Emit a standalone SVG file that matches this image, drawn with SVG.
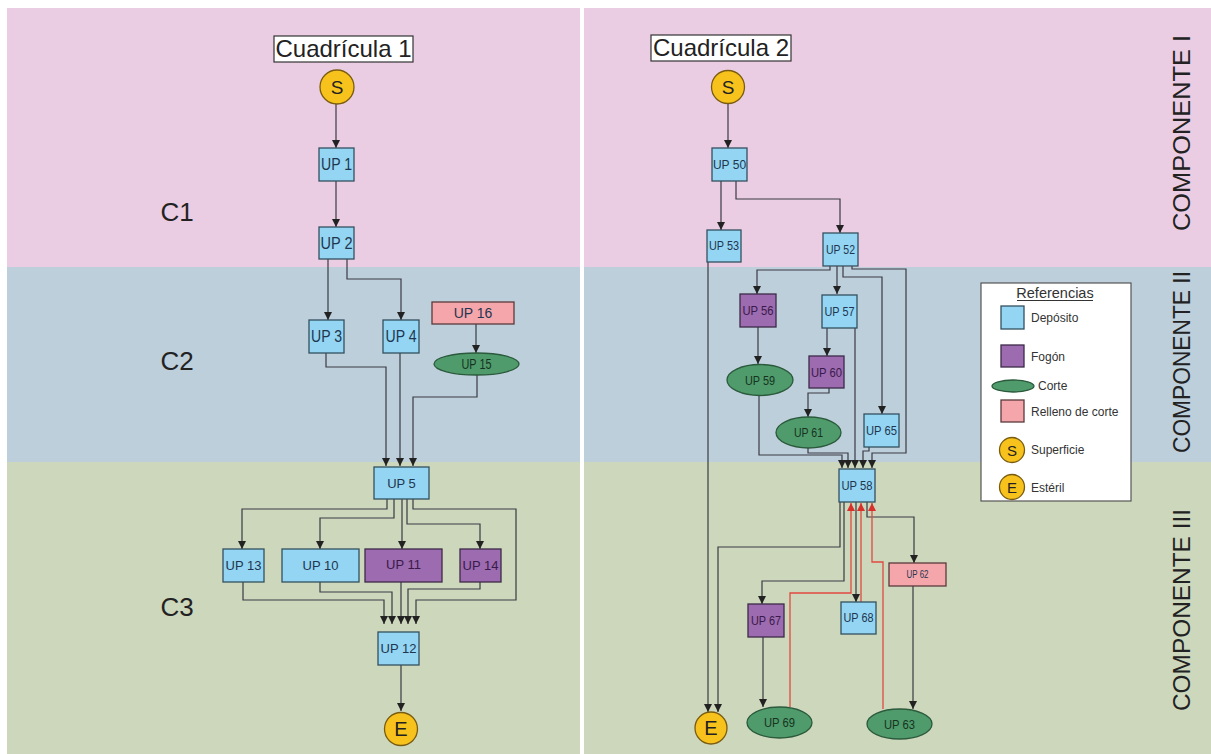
<svg xmlns="http://www.w3.org/2000/svg" width="1211" height="754" viewBox="0 0 1211 754">
<style>
  text { font-family: "Liberation Sans", Arial, sans-serif; }
  .dep { fill: #93d5f2; stroke: #34505f; stroke-width: 1.3; }
  .fog { fill: #9c6bb0; stroke: #3d2a48; stroke-width: 1.3; }
  .rel { fill: #f5a6aa; stroke: #5a3a3c; stroke-width: 1.3; }
  .cor { fill: #4f9b6b; stroke: #2b5a3c; stroke-width: 1.3; }
  .sup { fill: #f8c21c; stroke: #7a5c10; stroke-width: 1.3; }
  .lbl { fill: #1f3550; text-anchor: middle; }
  .lblp { fill: #3a1a4a; text-anchor: middle; }
  .lblg { fill: #16331f; text-anchor: middle; }
  .big { fill: #222; text-anchor: middle; }
  .con { fill: none; stroke: #3a3a44; stroke-width: 1.2; }
  .red { fill: none; stroke: #e04a40; stroke-width: 1.3; }
  .leg { fill: #333; font-size: 12px; }
</style>
<defs>
  <marker id="ah" markerUnits="userSpaceOnUse" markerWidth="9" markerHeight="9" refX="8" refY="4" orient="auto">
    <path d="M0,0 L8,4 L0,8 z" fill="#222"/>
  </marker>
  <marker id="ahr" markerUnits="userSpaceOnUse" markerWidth="9" markerHeight="9" refX="8" refY="4" orient="auto">
    <path d="M0,0 L8,4 L0,8 z" fill="#d8302a"/>
  </marker>
</defs>

<g id="bands">
  <rect x="0" y="0" width="1211" height="754" fill="#ffffff"/>
  <rect x="7" y="8" width="1204" height="259" fill="#ebcde3"/>
  <rect x="7" y="267" width="1204" height="195" fill="#bdcfdb"/>
  <rect x="7" y="462" width="1204" height="292" fill="#cdd7bc"/>
  <rect x="580" y="8" width="4" height="746" fill="#ffffff"/>
  <text class="big" x="177" y="221" font-size="26">C1</text>
  <text class="big" x="177" y="370" font-size="26">C2</text>
  <text class="big" x="177" y="616" font-size="26">C3</text>
  <text class="big" transform="translate(1190,133) rotate(-90)" font-size="23" textLength="196" lengthAdjust="spacingAndGlyphs">COMPONENTE I</text>
  <text class="big" transform="translate(1190,362) rotate(-90)" font-size="23" textLength="182" lengthAdjust="spacingAndGlyphs">COMPONENTE II</text>
  <text class="big" transform="translate(1190,610) rotate(-90)" font-size="23" textLength="202" lengthAdjust="spacingAndGlyphs">COMPONENTE III</text>
</g>

<g id="titles">
  <rect x="274" y="36" width="139" height="26" fill="#ffffff" stroke="#333" stroke-width="1.2"/>
  <text class="big" x="343.5" y="57" font-size="24">Cuadrícula 1</text>
  <rect x="651" y="35" width="140" height="26" fill="#ffffff" stroke="#333" stroke-width="1.2"/>
  <text class="big" x="721" y="56" font-size="24">Cuadrícula 2</text>
</g>

<g id="connectors">
  <!-- Cuadrícula 1 -->
  <path class="con" marker-end="url(#ah)" d="M336,104 V148"/>
  <path class="con" marker-end="url(#ah)" d="M336,181 V227"/>
  <path class="con" marker-end="url(#ah)" d="M328,259 V320"/>
  <path class="con" marker-end="url(#ah)" d="M347,259 V279 H401 V320"/>
  <path class="con" marker-end="url(#ah)" d="M476,324 V353"/>
  <path class="con" marker-end="url(#ah)" d="M326,353 V367 H386 V466"/>
  <path class="con" marker-end="url(#ah)" d="M400,353 V466"/>
  <path class="con" marker-end="url(#ah)" d="M477,375 V397 H413 V466"/>
  <path class="con" marker-end="url(#ah)" d="M387,499 V509 H242 V549"/>
  <path class="con" marker-end="url(#ah)" d="M394,499 V518 H320 V549"/>
  <path class="con" marker-end="url(#ah)" d="M402,499 V549"/>
  <path class="con" marker-end="url(#ah)" d="M407,499 V524 H480 V549"/>
  <path class="con" marker-end="url(#ah)" d="M413,499 V509 H516 V600 H416 V624"/>
  <path class="con" marker-end="url(#ah)" d="M243,582 V600 H384 V624"/>
  <path class="con" marker-end="url(#ah)" d="M320,582 V592 H392 V624"/>
  <path class="con" marker-end="url(#ah)" d="M401,582 V624"/>
  <path class="con" marker-end="url(#ah)" d="M480,582 V589 H408 V624"/>
  <path class="con" marker-end="url(#ah)" d="M401,665 V711"/>
  <!-- Cuadrícula 2 -->
  <path class="con" marker-end="url(#ah)" d="M728,104 V148"/>
  <path class="con" marker-end="url(#ah)" d="M721,181 V230"/>
  <path class="con" marker-end="url(#ah)" d="M736,181 V199 H840 V233"/>
  <path class="con" marker-end="url(#ah)" d="M708,262 V712"/>
  <path class="con" marker-end="url(#ah)" d="M830,266 V270 H757 V294"/>
  <path class="con" marker-end="url(#ah)" d="M837,266 V294"/>
  <path class="con" marker-end="url(#ah)" d="M843,266 V277 H882 V414"/>
  <path class="con" marker-end="url(#ah)" d="M852,266 V269 H906 V453 H872 V468"/>
  <path class="con" marker-end="url(#ah)" d="M758,327 V364"/>
  <path class="con" marker-end="url(#ah)" d="M827,328 V356"/>
  <path class="con" marker-end="url(#ah)" d="M855,328 V468"/>
  <path class="con" marker-end="url(#ah)" d="M829,388 V393 H808 V417"/>
  <path class="con" marker-end="url(#ah)" d="M759,395 V455 H842 V468"/>
  <path class="con" marker-end="url(#ah)" d="M808,448 V453 H848 V468"/>
  <path class="con" marker-end="url(#ah)" d="M869,447 V451 H863 V468"/>
  <path class="con" marker-end="url(#ah)" d="M840,502 V547 H718 V712"/>
  <path class="con" marker-end="url(#ah)" d="M844,502 V581 H762 V604"/>
  <path class="con" marker-end="url(#ah)" d="M856,502 V602"/>
  <path class="con" marker-end="url(#ah)" d="M867,502 V517 H914 V563"/>
  <path class="con" marker-end="url(#ah)" d="M913,586 V709"/>
  <path class="con" marker-end="url(#ah)" d="M763,637 V707"/>
  <path class="red" marker-end="url(#ahr)" d="M790,707 V593 H851 V503"/>
  <path class="red" marker-end="url(#ahr)" d="M861,602 V503"/>
  <path class="red" marker-end="url(#ahr)" d="M883,709 V562 H872 V503"/>
</g>

<!-- Cuadrícula 1 nodes -->
<g id="s1"><circle class="sup" cx="337" cy="87" r="17"/><text class="big" x="337" y="94" font-size="19">S</text></g>
<g id="up1"><rect class="dep" x="319" y="148" width="35" height="33"/><text class="lbl" x="336.5" y="170" font-size="16" textLength="31" lengthAdjust="spacingAndGlyphs">UP 1</text></g>
<g id="up2"><rect class="dep" x="319" y="227" width="35" height="32"/><text class="lbl" x="336.5" y="249" font-size="16" textLength="32" lengthAdjust="spacingAndGlyphs">UP 2</text></g>
<g id="up3"><rect class="dep" x="309" y="320" width="35" height="33"/><text class="lbl" x="326.5" y="342" font-size="16" textLength="31" lengthAdjust="spacingAndGlyphs">UP 3</text></g>
<g id="up4"><rect class="dep" x="383" y="320" width="36" height="33"/><text class="lbl" x="401" y="342" font-size="16" textLength="31" lengthAdjust="spacingAndGlyphs">UP 4</text></g>
<g id="up16"><rect class="rel" x="432" y="302" width="82" height="22"/><text class="lbl" x="473" y="318" font-size="14" fill="#3a2428">UP 16</text></g>
<g id="up15"><ellipse class="cor" cx="476.5" cy="364" rx="42.5" ry="11"/><text class="lblg" x="476.5" y="369" font-size="14" textLength="30" lengthAdjust="spacingAndGlyphs">UP 15</text></g>
<g id="up5"><rect class="dep" x="374" y="467" width="55" height="32"/><text class="lbl" x="401.5" y="488" font-size="13">UP 5</text></g>
<g id="up13"><rect class="dep" x="223" y="549" width="41" height="33"/><text class="lbl" x="243.5" y="570" font-size="13">UP 13</text></g>
<g id="up10"><rect class="dep" x="282" y="549" width="77" height="33"/><text class="lbl" x="320.5" y="570" font-size="13">UP 10</text></g>
<g id="up11"><rect class="fog" x="365" y="549" width="77" height="33"/><text class="lblp" x="403.5" y="569" font-size="13">UP 11</text></g>
<g id="up14"><rect class="fog" x="460" y="549" width="41" height="33"/><text class="lblp" x="480.5" y="570" font-size="13">UP 14</text></g>
<g id="up12"><rect class="dep" x="378" y="632" width="41" height="33"/><text class="lbl" x="398.5" y="653" font-size="13">UP 12</text></g>
<g id="e1"><circle class="sup" cx="401" cy="729" r="16.5"/><text class="big" x="401" y="736" font-size="20">E</text></g>

<!-- Cuadrícula 2 nodes -->
<g id="s2"><circle class="sup" cx="728" cy="87" r="16.5"/><text class="big" x="728" y="94" font-size="19">S</text></g>
<g id="up50"><rect class="dep" x="712" y="148" width="35" height="33"/><text class="lbl" x="729.5" y="169" font-size="12">UP 50</text></g>
<g id="up53"><rect class="dep" x="707" y="230" width="34" height="32"/><text class="lbl" x="724" y="250" font-size="12" textLength="30" lengthAdjust="spacingAndGlyphs">UP 53</text></g>
<g id="up52"><rect class="dep" x="823" y="233" width="35" height="33"/><text class="lbl" x="840.5" y="254" font-size="13" textLength="29" lengthAdjust="spacingAndGlyphs">UP 52</text></g>
<g id="up56"><rect class="fog" x="740" y="294" width="36" height="33"/><text class="lblp" x="758" y="315" font-size="13" textLength="31" lengthAdjust="spacingAndGlyphs">UP 56</text></g>
<g id="up57"><rect class="dep" x="822" y="295" width="35" height="33"/><text class="lbl" x="839.5" y="316" font-size="13" textLength="30" lengthAdjust="spacingAndGlyphs">UP 57</text></g>
<g id="up59"><ellipse class="cor" cx="760" cy="380" rx="33" ry="15.5"/><text class="lblg" x="760" y="385" font-size="13" textLength="30" lengthAdjust="spacingAndGlyphs">UP 59</text></g>
<g id="up60"><rect class="fog" x="809" y="356" width="35" height="32"/><text class="lblp" x="826.5" y="377" font-size="13" textLength="31" lengthAdjust="spacingAndGlyphs">UP 60</text></g>
<g id="up61"><ellipse class="cor" cx="808.5" cy="432.5" rx="32.5" ry="15.5"/><text class="lblg" x="808.5" y="437" font-size="13" textLength="29" lengthAdjust="spacingAndGlyphs">UP 61</text></g>
<g id="up65"><rect class="dep" x="864" y="414" width="35" height="33"/><text class="lbl" x="881.5" y="435" font-size="13" textLength="31" lengthAdjust="spacingAndGlyphs">UP 65</text></g>
<g id="up58"><rect class="dep" x="839" y="469" width="36" height="33"/><text class="lbl" x="857" y="490" font-size="13" textLength="31" lengthAdjust="spacingAndGlyphs">UP 58</text></g>
<g id="up62"><rect class="rel" x="889" y="563" width="57" height="23"/><text class="lbl" x="917.5" y="578" font-size="11" fill="#3a2428" textLength="22" lengthAdjust="spacingAndGlyphs">UP 62</text></g>
<g id="up67"><rect class="fog" x="748" y="604" width="36" height="33"/><text class="lblp" x="766" y="625" font-size="13" textLength="30" lengthAdjust="spacingAndGlyphs">UP 67</text></g>
<g id="up68"><rect class="dep" x="841" y="602" width="35" height="32"/><text class="lbl" x="858.5" y="622" font-size="13" textLength="30" lengthAdjust="spacingAndGlyphs">UP 68</text></g>
<g id="up69"><ellipse class="cor" cx="779.5" cy="722.5" rx="32.5" ry="15.5"/><text class="lblg" x="779.5" y="727" font-size="13" textLength="31" lengthAdjust="spacingAndGlyphs">UP 69</text></g>
<g id="up63"><ellipse class="cor" cx="899.5" cy="724" rx="32.5" ry="15"/><text class="lblg" x="899.5" y="729" font-size="13" textLength="31" lengthAdjust="spacingAndGlyphs">UP 63</text></g>
<g id="e2"><circle class="sup" cx="711" cy="728" r="16"/><text class="big" x="711" y="735" font-size="20">E</text></g>

<!-- Legend -->
<g id="legend">
  <rect x="981" y="283" width="150" height="218" fill="#ffffff" stroke="#555" stroke-width="1.2"/>
  <text x="1055" y="298" font-size="14.5" fill="#333" text-anchor="middle">Referencias</text>
  <line x1="1017" y1="300.5" x2="1093" y2="300.5" stroke="#333" stroke-width="1"/>
  <rect class="dep" x="1001" y="306" width="23" height="23"/>
  <text class="leg" x="1031" y="322">Depósito</text>
  <rect class="fog" x="1001" y="345" width="23" height="22"/>
  <text class="leg" x="1031" y="361">Fogón</text>
  <ellipse class="cor" cx="1013" cy="386" rx="21" ry="6"/>
  <text class="leg" x="1038" y="390">Corte</text>
  <rect class="rel" x="1001" y="400" width="23" height="22"/>
  <text class="leg" x="1031" y="416">Relleno de corte</text>
  <circle class="sup" cx="1012" cy="450" r="12.5"/>
  <text class="big" x="1012" y="456" font-size="15">S</text>
  <text class="leg" x="1031" y="454">Superficie</text>
  <circle class="sup" cx="1012" cy="487" r="12.5"/>
  <text class="big" x="1012" y="493" font-size="15">E</text>
  <text class="leg" x="1031" y="492">Estéril</text>
</g>
</svg>
